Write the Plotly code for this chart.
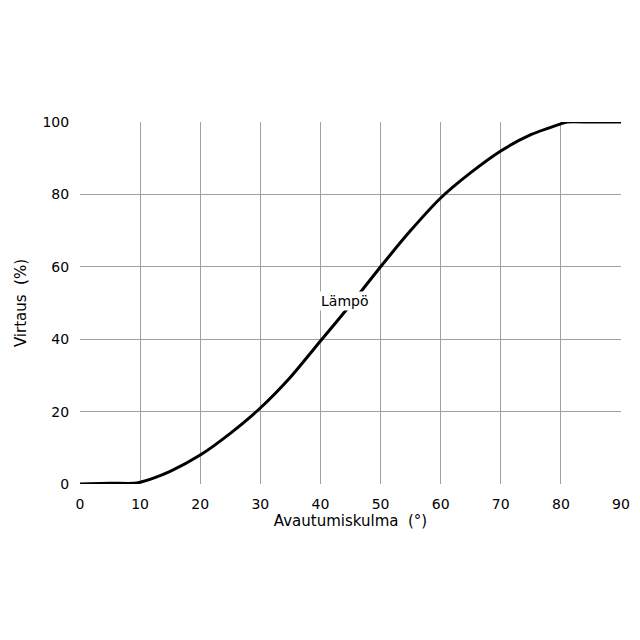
import plotly.graph_objects as go

angle = [0, 5, 9, 10, 12, 15, 20, 25, 30, 35, 40, 45, 50, 55, 60, 65, 70, 75, 80, 81, 85, 90]
flow = [0, 0.2, 0.2, 0.5, 1.5, 3.5, 8, 14, 21, 29.5, 39.5, 49.5, 60, 70, 79, 86, 92, 96.5, 99.5, 100, 100, 100]
x_ticks = list(range(0, 91, 10))
y_ticks = list(range(0, 101, 20))

fig = go.Figure()
fig.add_trace(go.Scatter(x=angle, y=flow, mode="lines",
                         line=dict(color="black", width=3, shape="spline", smoothing=0.6),
                         showlegend=False, cliponaxis=False))

fig.add_annotation(x=44, y=50.5, text="Lämpö", showarrow=False,
                   bgcolor="white", font=dict(size=14, color="black"))

axis_style = dict(showgrid=True, gridcolor="#a0a0a0", gridwidth=1, zeroline=False,
                  ticks="outside", ticklen=7, tickcolor="rgba(0,0,0,0)",
                  tickfont=dict(size=14, color="black"),
                  title_font=dict(size=15, color="black"))
fig.update_xaxes(range=[0, 90], tickvals=x_ticks, title_text="Avautumiskulma  (°)",
                 title_standoff=4, **axis_style)
fig.update_yaxes(range=[0, 100], tickvals=y_ticks, title_text="Virtaus  (%)",
                 title_standoff=12, **axis_style)

fig.update_layout(width=640, height=640, plot_bgcolor="white", paper_bgcolor="white",
                  font=dict(family="DejaVu Sans", color="black"),
                  margin=dict(l=69, r=27, t=114, b=164))
fig.write_html("out.html")
